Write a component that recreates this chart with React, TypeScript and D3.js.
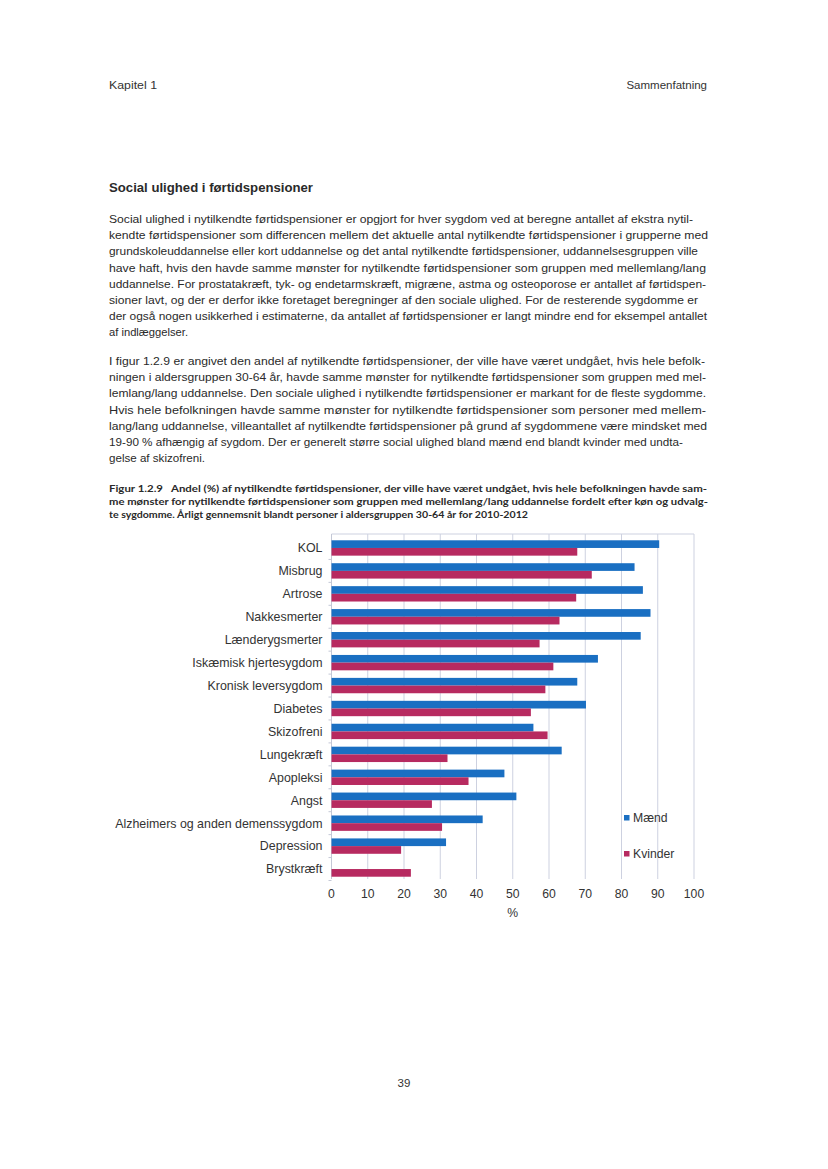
import * as d3 from 'd3'

const categories = [
  'KOL',
  'Misbrug',
  'Artrose',
  'Nakkesmerter',
  'Lænderygsmerter',
  'Iskæmisk hjertesygdom',
  'Kronisk leversygdom',
  'Diabetes',
  'Skizofreni',
  'Lungekræft',
  'Apopleksi',
  'Angst',
  'Alzheimers og anden demenssygdom',
  'Depression',
  'Brystkræft',
]

// share (%) of new disability pensions avoided, men / women
const maend: (number | null)[] = [90.4, 83.6, 85.9, 88, 85.3, 73.5, 67.8, 70.2, 55.7, 63.5, 47.7, 51, 41.7, 31.6, null]
const kvinder: (number | null)[] = [67.8, 71.8, 67.5, 62.9, 57.4, 61.2, 59, 55, 59.6, 32, 37.8, 27.7, 30.5, 19.2, 21.9]

const xTicks = [0, 10, 20, 30, 40, 50, 60, 70, 80, 90, 100]
const seriesNames = ['Mænd', 'Kvinder']
const seriesColors = ['#1a6fc2', '#b72a60']

const heading = 'Social ulighed i førtidspensioner'
const para1 = [
  'Social ulighed i nytilkendte førtidspensioner er opgjort for hver sygdom ved at beregne antallet af ekstra nytil-',
  'kendte førtidspensioner som differencen mellem det aktuelle antal nytilkendte førtidspensioner i grupperne med',
  'grundskoleuddannelse eller kort uddannelse og det antal nytilkendte førtidspensioner, uddannelsesgruppen ville',
  'have haft, hvis den havde samme mønster for nytilkendte førtidspensioner som gruppen med mellemlang/lang',
  'uddannelse. For prostatakræft, tyk- og endetarmskræft, migræne, astma og osteoporose er antallet af førtidspen-',
  'sioner lavt, og der er derfor ikke foretaget beregninger af den sociale ulighed. For de resterende sygdomme er',
  'der også nogen usikkerhed i estimaterne, da antallet af førtidspensioner er langt mindre end for eksempel antallet',
  'af indlæggelser.',
]
const para2 = [
  'I figur 1.2.9 er angivet den andel af nytilkendte førtidspensioner, der ville have været undgået, hvis hele befolk-',
  'ningen i aldersgruppen 30-64 år, havde samme mønster for nytilkendte førtidspensioner som gruppen med mel-',
  'lemlang/lang uddannelse. Den sociale ulighed i nytilkendte førtidspensioner er markant for de fleste sygdomme.',
  'Hvis hele befolkningen havde samme mønster for nytilkendte førtidspensioner som personer med mellem-',
  'lang/lang uddannelse, villeantallet af nytilkendte førtidspensioner på grund af sygdommene være mindsket med',
  '19-90 % afhængig af sygdom. Der er generelt større social ulighed bland mænd end blandt kvinder med undta-',
  'gelse af skizofreni.',
]
const caption = [
  'Figur 1.2.9\u00a0\u00a0\u00a0Andel (%) af nytilkendte førtidspensioner, der ville have været undgået, hvis hele befolkningen havde sam-',
  'me mønster for nytilkendte førtidspensioner som gruppen med mellemlang/lang uddannelse fordelt efter køn og udvalg-',
  'te sygdomme. Årligt gennemsnit blandt personer i aldersgruppen 30-64 år for 2010-2012',
]

// right edge of each printed line on the page (layout only)
const para1Ends = [693, 708, 698, 706, 706, 698, 707, 188]
const para2Ends = [705, 706, 706, 706, 707, 683, 205]
const captionEnds = [707, 708, 528]

const W = 828
const H = 1169
const sans = '"Liberation Sans", Arial, sans-serif'
const LEFT = 109

export default function App() {
  const plot = { left: 331.5, right: 694, top: 534, bottom: 879 }

  const x = d3.scaleLinear().domain([0, 100]).range([plot.left, plot.right])
  const y = d3
    .scaleBand<string>()
    .domain(categories)
    .range([plot.top + 2.5, plot.bottom + 1.5])
  const bw = y.bandwidth()
  const gap = bw * 0.33
  const ySeries = d3
    .scaleBand<string>()
    .domain(seriesNames)
    .range([gap / 2, bw - gap / 2])

  const values = [maend, kvinder]

  return (
    <svg
      width={W}
      height={H}
      viewBox={`0 0 ${W} ${H}`}
      style={{ position: 'absolute', left: 0, top: 0, background: '#fff' }}
      fontFamily={sans}
    >
      <rect width={W} height={H} fill="#fff" />

      {/* running header */}
      <text x={LEFT} y={89} fontSize={11.5} fill="#333" textLength={157 - LEFT} lengthAdjust="spacingAndGlyphs">Kapitel 1</text>
      <text x={707} y={89} fontSize={11.5} fill="#333" textAnchor="end">Sammenfatning</text>

      <text x={LEFT} y={192} fontSize={12.8} fontWeight="bold" fill="#2a2a2a" textLength={313 - LEFT} lengthAdjust="spacingAndGlyphs">
        {heading}
      </text>

      {para1.map((t, i) => (
        <text
          key={'p1' + i}
          x={LEFT}
          y={223 + i * 16.2}
          fontSize={11}
          fill="#2a2a2a"
          textLength={para1Ends[i] - LEFT}
          lengthAdjust="spacingAndGlyphs"
        >
          {t}
        </text>
      ))}
      {para2.map((t, i) => (
        <text
          key={'p2' + i}
          x={LEFT}
          y={365 + i * 16.2}
          fontSize={11}
          fill="#2a2a2a"
          textLength={para2Ends[i] - LEFT}
          lengthAdjust="spacingAndGlyphs"
        >
          {t}
        </text>
      ))}
      {caption.map((t, i) => (
        <text
          key={'c' + i}
          x={LEFT}
          y={491.5 + i * 13.2}
          fontSize={10}
          fontWeight="bold"
          fontFamily='Lato, "Open Sans", sans-serif'
          fill="#2a2a2a"
          textLength={captionEnds[i] - LEFT}
          lengthAdjust="spacingAndGlyphs"
        >
          {t}
        </text>
      ))}

      {/* chart */}
      <g>
        {xTicks.slice(1).map(t => (
          <line key={'g' + t} x1={x(t)} x2={x(t)} y1={plot.top} y2={plot.bottom} stroke="#cdd1e0" strokeWidth={1} />
        ))}
        <line x1={plot.left} x2={plot.right} y1={plot.top} y2={plot.top} stroke="#cdd1e0" />
        <line x1={plot.left} x2={plot.left} y1={plot.top} y2={plot.bottom} stroke="#c4c8d6" />
        {categories.map((c, i) => (
          <line
            key={'yt' + i}
            x1={plot.left - 3}
            x2={plot.left}
            y1={(y(c) ?? 0) + bw}
            y2={(y(c) ?? 0) + bw}
            stroke="#c4c8d6"
          />
        ))}

        {categories.map((c, i) => (
          <g key={'bars' + i} transform={`translate(0,${y(c)})`}>
            {seriesNames.map((s, si) => {
              const v = values[si][i]
              if (v == null) return null
              return (
                <rect
                  key={s}
                  x={x(0)}
                  y={ySeries(s)}
                  width={x(v) - x(0)}
                  height={ySeries.bandwidth()}
                  fill={seriesColors[si]}
                />
              )
            })}
          </g>
        ))}

        {categories.map(c => (
          <text
            key={'lab' + c}
            x={plot.left - 9}
            y={(y(c) ?? 0) + bw / 2}
            dy="0.35em"
            fontSize={12.4}
            textAnchor="end"
            fill="#333"
          >
            {c}
          </text>
        ))}

        {xTicks.map(t => (
          <text key={'xt' + t} x={x(t)} y={898} fontSize={12.2} textAnchor="middle" fill="#333">
            {t}
          </text>
        ))}
        <text x={x(50)} y={917} fontSize={12.2} textAnchor="middle" fill="#333">%</text>

        {/* legend */}
        {seriesNames.map((s, si) => (
          <g key={'leg' + s} transform={`translate(624,${818 + si * 36})`}>
            <rect x={0} y={-3} width={5.5} height={5.5} fill={seriesColors[si]} />
            <text x={9} y={0} dy="0.35em" fontSize={12.2} fill="#333">{s}</text>
          </g>
        ))}
      </g>

      <text x={404} y={1087} fontSize={11.5} textAnchor="middle" fill="#333">39</text>
    </svg>
  )
}
